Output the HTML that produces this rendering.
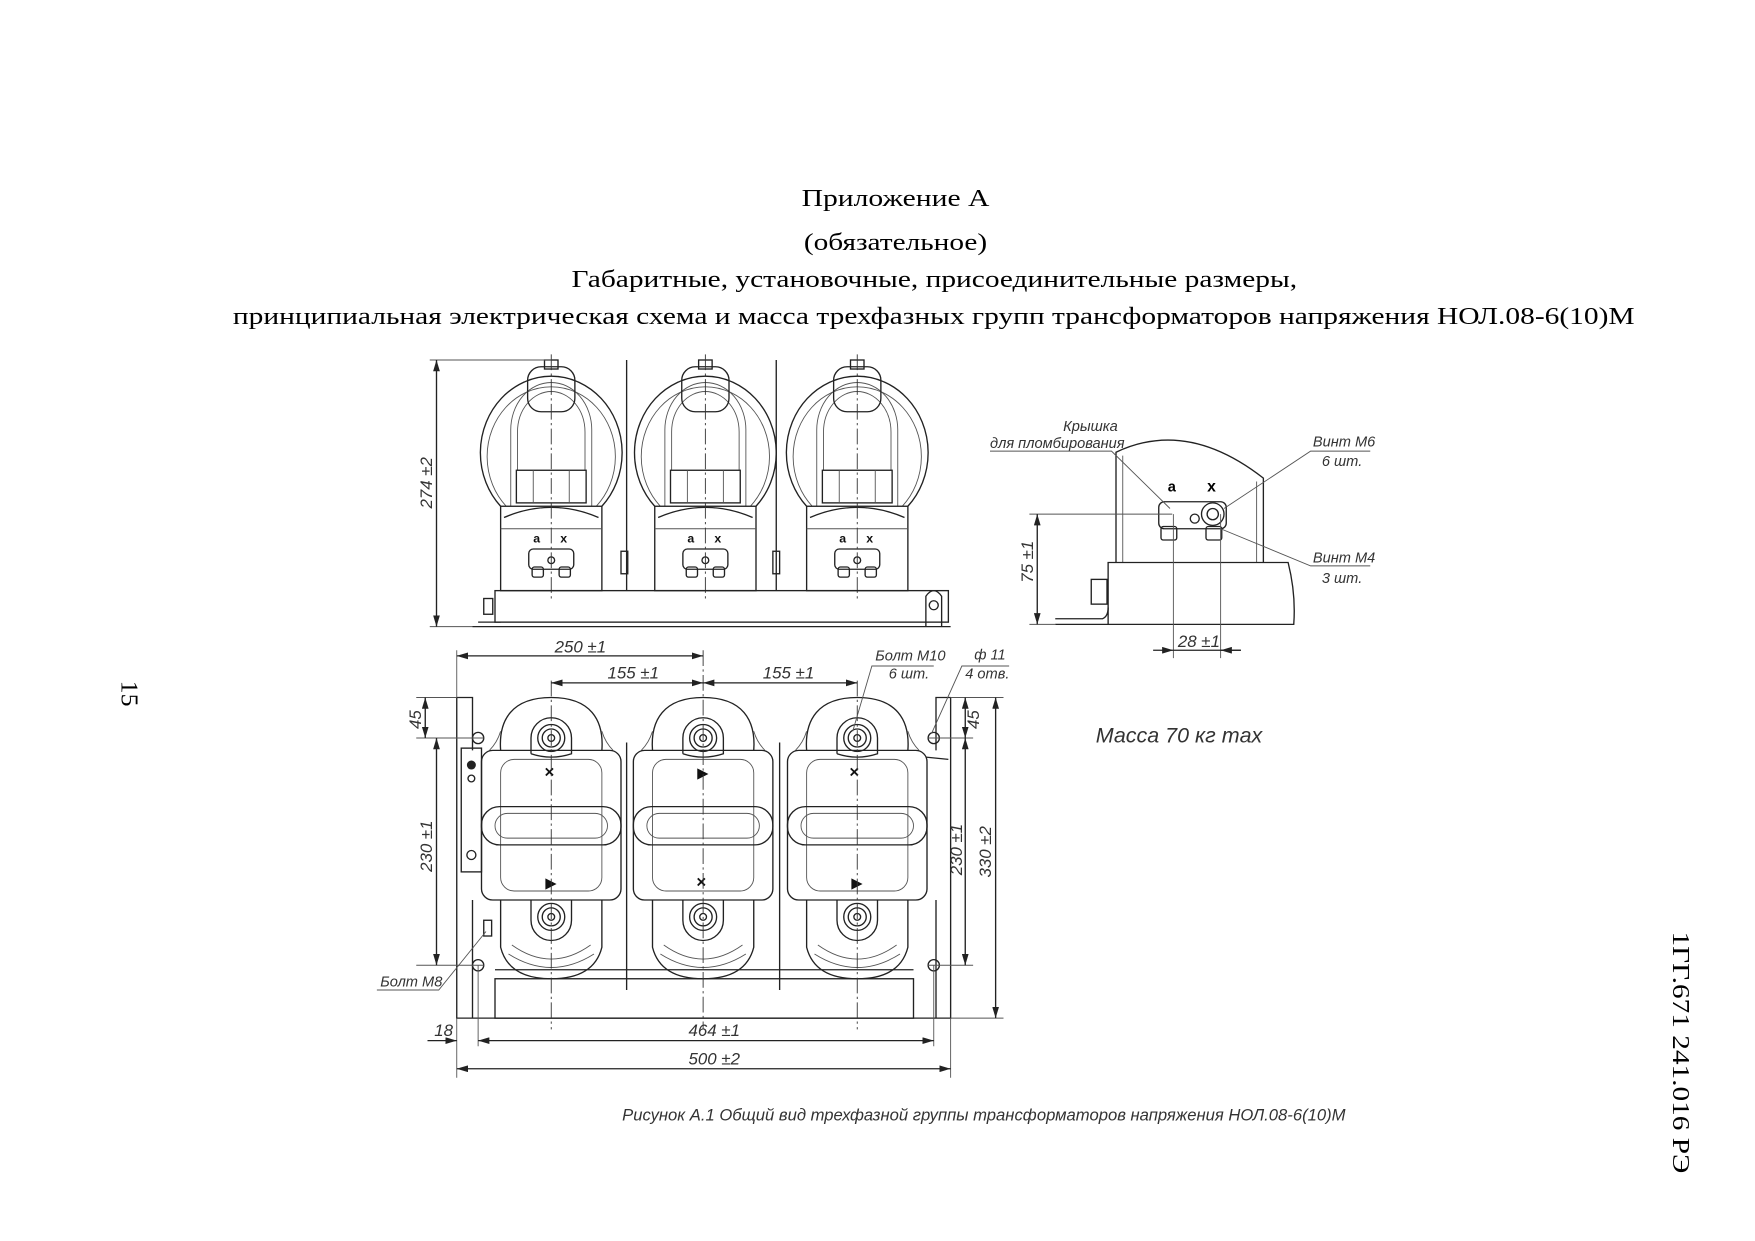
<!DOCTYPE html>
<html><head><meta charset="utf-8"><style>
html,body{margin:0;padding:0;background:#fff;width:1755px;height:1241px;overflow:hidden}
svg{display:block}
.t{font-family:"Liberation Serif","Noto Serif CJK SC",serif;fill:#000}
.d{font-family:"Liberation Sans","DejaVu Sans",sans-serif;font-style:italic;fill:#333}
.l{fill:none;stroke:#222;stroke-width:1.2}
.th{fill:none;stroke:#555;stroke-width:0.8}
.cl{fill:none;stroke:#333;stroke-width:0.8;stroke-dasharray:14 3 2 3}
</style></head><body>
<svg width="1755" height="1241" viewBox="0 0 1560 1103.1" xmlns="http://www.w3.org/2000/svg">
<defs>
<marker id="a" viewBox="0 0 10 6" refX="10" refY="3" markerWidth="10" markerHeight="6" orient="auto-start-reverse" markerUnits="userSpaceOnUse"><path d="M0,0 L10,3 L0,6 z" fill="#222"/></marker>
<g id="tu">
<path class="l" d="M-45,130 A63,68 0 1 1 45,130"/>
<path class="th" d="M-40,130 A57,62 0 1 1 40,130"/>
<path class="th" d="M-36,130 L-36,62 A36,42 0 0 1 36,62 L36,130"/>
<path class="th" d="M-30,98 L-30,64 A30,36 0 0 1 30,64 L30,98"/>
<rect class="l" x="-21" y="6" width="42" height="40" rx="12"/>
<rect class="l" x="-6" y="0" width="12" height="8"/>
<rect class="l" x="-31" y="98" width="62" height="29"/>
<path class="th" d="M-16,98 V127 M16,98 V127"/>
<path class="l" d="M-42,140 Q0,122 42,140"/>
<rect class="l" x="-45" y="130" width="90" height="75"/>
<line class="th" x1="-45" y1="150" x2="45" y2="150"/>
<rect class="l" x="-20" y="168" width="40" height="18" rx="4"/>
<rect class="l" x="-17" y="184" width="10" height="9" rx="2"/>
<rect class="l" x="7" y="184" width="10" height="9" rx="2"/>
<circle class="l" cx="0" cy="178" r="3"/>
<line class="cl" x1="0" y1="-5" x2="0" y2="215"/>
</g>
<g id="bu">
<path class="l" d="M-45,47 C-47,20 -35,0 0,0 C35,0 47,20 45,47"/>
<path class="th" d="M-55,47 Q-48,40 -45,30 M55,47 Q48,40 45,30"/>
<path class="l" d="M-18,50 L-18,36 A18,18 0 0 1 18,36 L18,50 Q0,56 -18,50"/>
<circle class="l" cx="0" cy="36" r="12"/><circle class="l" cx="0" cy="36" r="8" stroke-width="2"/><circle class="l" cx="0" cy="36" r="3"/>
<rect class="l" x="-62" y="47" width="124" height="133" rx="10"/>
<rect class="th" x="-45" y="55" width="90" height="117" rx="12"/>
<rect class="l" x="-62" y="97" width="124" height="34" rx="16"/>
<rect class="th" x="-50" y="103" width="100" height="22" rx="11"/>
<path class="l" d="M-45,180 L-45,222 Q-38,250 0,250 Q38,250 45,222 L45,180"/>
<path class="th" d="M-35,220 Q0,245 35,220 M-38,228 Q0,252 38,228"/>
<path class="l" d="M-18,180 L-18,198 A18,18 0 0 0 18,198 L18,180"/>
<circle class="l" cx="0" cy="195" r="12"/><circle class="l" cx="0" cy="195" r="8" stroke-width="2"/><circle class="l" cx="0" cy="195" r="3"/>
</g>
</defs>

<!-- Titles -->
<text class="t" x="796" y="183" font-size="22" text-anchor="middle" textLength="167" lengthAdjust="spacingAndGlyphs">Приложение А</text>
<text class="t" x="796" y="222" font-size="22" text-anchor="middle" textLength="163" lengthAdjust="spacingAndGlyphs">(обязательное)</text>
<text class="t" x="508" y="255" font-size="22" textLength="645" lengthAdjust="spacingAndGlyphs">Габаритные, установочные, присоединительные размеры,</text>
<text class="t" x="207" y="288" font-size="22" textLength="1246" lengthAdjust="spacingAndGlyphs">принципиальная электрическая схема и масса трехфазных групп трансформаторов напряжения НОЛ.08-6(10)М</text>
<text class="t" font-size="22" transform="translate(108,605) rotate(90)" textLength="23" lengthAdjust="spacingAndGlyphs">15</text>
<text class="t" font-size="22" transform="translate(1487,828) rotate(90)" textLength="215" lengthAdjust="spacingAndGlyphs">1ГГ.671 241.016 РЭ</text>

<!-- TOP VIEW -->
<use href="#tu" x="490" y="320"/>
<use href="#tu" x="627" y="320"/>
<use href="#tu" x="762" y="320"/>
<g font-family="Liberation Sans,sans-serif" font-weight="bold" font-size="11" fill="#111">
<text x="474" y="482">a</text><text x="498" y="482">x</text>
<text x="611" y="482">a</text><text x="635" y="482">x</text>
<text x="746" y="482">a</text><text x="770" y="482">x</text>
</g>
<line class="l" x1="557" y1="320" x2="557" y2="525"/>
<line class="l" x1="690" y1="320" x2="690" y2="525"/>
<rect class="l" x="552" y="490" width="6" height="20"/><rect class="l" x="687" y="490" width="6" height="20"/>
<rect class="l" x="440" y="525" width="403" height="28"/>
<path class="l" d="M420,557 H845 M425,553 H445"/>
<rect class="l" x="430" y="532" width="8" height="14"/>
<path class="l" d="M823,557 V530 Q830,520 837,530 V557"/><circle class="l" cx="830" cy="538" r="4"/>
<line class="th" x1="382" y1="320" x2="490" y2="320"/>
<line class="th" x1="382" y1="557" x2="420" y2="557"/>
<line class="l" x1="388" y1="320" x2="388" y2="557" marker-start="url(#a)" marker-end="url(#a)"/>
<text class="d" font-size="15" transform="translate(384,452) rotate(-90)">274 ±2</text>

<!-- SIDE VIEW -->
<path class="l" d="M992,500 V402 Q1055,372 1123,425 V500"/>
<path class="th" d="M998,500 V405 M1117,500 V428"/>
<path class="l" d="M985,500 H1145 Q1152,528 1150,555 H985 Z"/>
<path class="l" d="M938,555 H985 M938,550 H980 Q985,548 985,540"/>
<rect class="l" x="970" y="515" width="14" height="22"/>
<text font-family="Liberation Sans,sans-serif" font-weight="bold" font-size="13" x="1038" y="437">a</text>
<text font-family="Liberation Sans,sans-serif" font-weight="bold" font-size="14" x="1073" y="437">x</text>
<rect class="l" x="1030" y="446" width="60" height="24" rx="5"/>
<rect class="l" x="1032" y="468" width="14" height="12" rx="2"/><rect class="l" x="1072" y="468" width="14" height="12" rx="2"/>
<circle class="l" cx="1078" cy="457" r="10" stroke-width="2"/><circle class="l" cx="1078" cy="457" r="5"/>
<circle class="l" cx="1062" cy="461" r="4"/>
<line class="th" x1="915" y1="457" x2="1042" y2="457"/>
<line class="th" x1="915" y1="555" x2="938" y2="555"/>
<line class="l" x1="922" y1="457" x2="922" y2="555" marker-start="url(#a)" marker-end="url(#a)"/>
<text class="d" font-size="15" transform="translate(918,518) rotate(-90)">75 ±1</text>
<path class="th" d="M1043,457 V585 M1085,457 V585"/>
<line class="l" x1="1025" y1="578" x2="1043" y2="578" marker-end="url(#a)"/>
<line class="l" x1="1043" y1="578" x2="1103" y2="578"/>
<line class="l" x1="1103" y1="578" x2="1085" y2="578" marker-end="url(#a)"/>
<text class="d" font-size="15" x="1047" y="575">28 ±1</text>
<text class="d" font-size="13" x="945" y="383">Крышка</text>
<text class="d" font-size="13" x="880" y="398">для пломбирования</text>
<path class="th" d="M880,401 H988 L1040,452"/>
<text class="d" font-size="13" x="1167" y="397">Винт М6</text>
<text class="d" font-size="13" x="1175" y="414">6 шт.</text>
<path class="th" d="M1218,401 H1165 L1088,452"/>
<text class="d" font-size="13" x="1167" y="500">Винт М4</text>
<text class="d" font-size="13" x="1175" y="518">3 шт.</text>
<path class="th" d="M1218,503 H1165 L1085,470"/>

<!-- BOTTOM VIEW -->
<path class="l" d="M406,620 V905 H845 V620"/>
<path class="l" d="M406,620 H420 V667 M845,620 H832 V667"/>
<path class="l" d="M420,800 V905 M832,800 V905"/>
<rect class="l" x="440" y="870" width="372" height="35"/>
<line class="l" x1="440" y1="862" x2="812" y2="862"/>
<use href="#bu" x="490" y="620"/>
<use href="#bu" x="625" y="620"/>
<use href="#bu" x="762" y="620"/>
<line class="l" x1="557" y1="660" x2="557" y2="880" stroke-width="1.5"/>
<line class="l" x1="693" y1="660" x2="693" y2="880" stroke-width="1.5"/>
<rect class="l" x="410" y="665" width="18" height="110"/>
<circle cx="419" cy="680" r="4" fill="#222"/><circle class="l" cx="419" cy="692" r="3"/><circle class="l" cx="419" cy="760" r="4"/>
<rect class="l" x="430" y="818" width="7" height="14"/>
<circle class="l" cx="425" cy="656" r="5"/><circle class="l" cx="830" cy="656" r="5"/>
<circle class="l" cx="425" cy="858" r="5"/><circle class="l" cx="830" cy="858" r="5"/>
<line class="l" x1="823" y1="673" x2="843" y2="675" stroke-width="2"/>
<g font-family="Liberation Sans,sans-serif" font-weight="bold" font-size="15" fill="#111">
<text x="484" y="691">×</text><text x="755" y="691">×</text><text x="619" y="789">×</text>
<text x="485" y="789" font-size="12">▶</text><text x="620" y="691" font-size="12">▶</text><text x="757" y="789" font-size="12">▶</text>
</g>
<line class="cl" x1="490" y1="605" x2="490" y2="915"/>
<line class="cl" x1="625" y1="578" x2="625" y2="915"/>
<line class="cl" x1="762" y1="605" x2="762" y2="915"/>
<!-- dims -->
<line class="th" x1="406" y1="578" x2="406" y2="620"/>
<line class="l" x1="406" y1="583" x2="625" y2="583" marker-start="url(#a)" marker-end="url(#a)"/>
<text class="d" font-size="15" x="493" y="580">250 ±1</text>
<line class="l" x1="490" y1="607" x2="625" y2="607" marker-start="url(#a)" marker-end="url(#a)"/>
<line class="l" x1="625" y1="607" x2="762" y2="607" marker-start="url(#a)" marker-end="url(#a)"/>
<text class="d" font-size="15" x="540" y="603">155 ±1</text>
<text class="d" font-size="15" x="678" y="603">155 ±1</text>
<path class="th" d="M370,620 H406 M370,656 H430 M370,858 H430 M845,620 H892 M825,656 H865 M825,858 H865 M845,905 H892"/>
<line class="l" x1="378" y1="620" x2="378" y2="656" marker-start="url(#a)" marker-end="url(#a)"/>
<text class="d" font-size="15" transform="translate(374,648) rotate(-90)">45</text>
<line class="l" x1="388" y1="656" x2="388" y2="858" marker-start="url(#a)" marker-end="url(#a)"/>
<text class="d" font-size="15" transform="translate(384,775) rotate(-90)">230 ±1</text>
<line class="l" x1="858" y1="620" x2="858" y2="656" marker-start="url(#a)" marker-end="url(#a)"/>
<text class="d" font-size="15" transform="translate(870,648) rotate(-90)">45</text>
<line class="l" x1="858" y1="656" x2="858" y2="858" marker-start="url(#a)" marker-end="url(#a)"/>
<text class="d" font-size="15" transform="translate(855,778) rotate(-90)">230 ±1</text>
<line class="l" x1="885" y1="620" x2="885" y2="905" marker-start="url(#a)" marker-end="url(#a)"/>
<text class="d" font-size="15" transform="translate(881,780) rotate(-90)">330 ±2</text>
<path class="th" d="M406,905 V958 M845,905 V958 M425,858 V930 M830,858 V930"/>
<line class="l" x1="380" y1="925" x2="406" y2="925" marker-end="url(#a)"/>
<line class="l" x1="425" y1="925" x2="830" y2="925" marker-start="url(#a)" marker-end="url(#a)"/>
<text class="d" font-size="15" x="386" y="921">18</text>
<text class="d" font-size="15" x="612" y="921">464 ±1</text>
<line class="l" x1="406" y1="950" x2="845" y2="950" marker-start="url(#a)" marker-end="url(#a)"/>
<text class="d" font-size="15" x="612" y="946">500 ±2</text>
<text class="d" font-size="13" x="778" y="587">Болт М10</text>
<text class="d" font-size="13" x="790" y="603">6 шт.</text>
<path class="th" d="M830,592 H775 L758,650"/>
<text class="d" font-size="13" x="866" y="586">ф 11</text>
<text class="d" font-size="13" x="858" y="603">4 отв.</text>
<path class="th" d="M897,592 H855 L828,652"/>
<text class="d" font-size="13" x="338" y="877">Болт М8</text>
<path class="th" d="M335,880 H390 L432,828"/>

<text class="d" font-size="19" x="974" y="660" textLength="148" lengthAdjust="spacingAndGlyphs">Масса 70 кг max</text>
<text class="d" font-size="15" x="553" y="996" textLength="643" lengthAdjust="spacingAndGlyphs" fill="#444">Рисунок А.1 Общий вид трехфазной группы трансформаторов напряжения НОЛ.08-6(10)М</text>
</svg>
</body></html>
